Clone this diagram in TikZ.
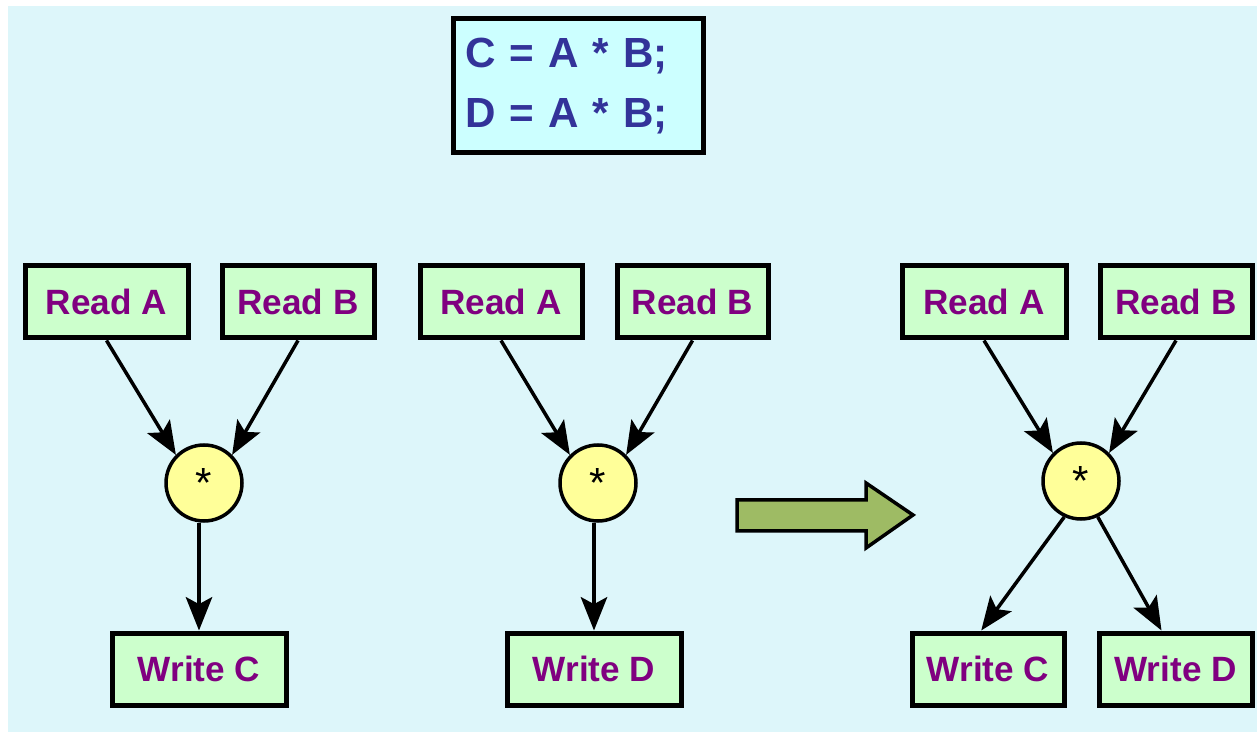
\documentclass[tikz,border=0pt]{standalone}
\usepackage{fontspec}
\setmainfont{Liberation Sans}
\usetikzlibrary{arrows.meta}
\definecolor{bgcyan}{RGB}{221,246,250}
\definecolor{codefill}{RGB}{204,255,255}
\definecolor{codetext}{RGB}{51,51,153}
\definecolor{opfill}{RGB}{204,255,204}
\definecolor{optext}{RGB}{128,0,128}
\definecolor{mulfill}{RGB}{255,255,153}
\definecolor{bigarrow}{RGB}{158,187,100}
\def\px{0.02cm}
\tikzset{
  opbox/.style={draw=black, line width=5*\px, fill=opfill, minimum height=72*\px,
    inner sep=0pt, text=optext, font=\bfseries\fontsize{20pt}{24pt}\selectfont},
  mulnode/.style={circle, draw=black, line width=3.5*\px, fill=mulfill,
    minimum size=76*\px, inner sep=0pt, font=\fontsize{24pt}{24pt}\selectfont},
  flow/.style={line width=3.5*\px, -{Stealth[length=19pt,width=15pt,inset=4pt]}},
}
\begin{document}
\begin{tikzpicture}[x=0.02cm, y=-0.02cm]
  \useasboundingbox (0,0) rectangle (1257,732);
  \fill[bgcyan] (8,6) rectangle (1257,732);

  % source statements
  \node[draw=black, line width=5*\px, fill=codefill, minimum width=250*\px,
    minimum height=134*\px, text width=226*\px, inner xsep=12*\px, align=left,
    text=codetext, font=\bfseries\fontsize{24pt}{34pt}\selectfont]
    (code) at (578,86) {C = A * B;\\D = A * B;};

  % first graph: C = A * B
  \node[opbox, minimum width=163*\px] (ra1) at (106.5,302) {Read A};
  \node[opbox, minimum width=152*\px] (rb1) at (298,302) {Read B};
  \node[mulnode] (m1) at (204,483) {\raisebox{-0.5ex}{*}};
  \node[opbox, minimum width=174*\px] (wc1) at (199,669) {Write C};
  \draw[flow] (ra1.south) -- (m1.135);
  \draw[flow] (rb1.south) -- (m1.45);
  \draw[flow] (m1.south -| wc1.north) -- (wc1.north);

  % second graph: D = A * B
  \node[opbox, minimum width=162*\px] (ra2) at (501,302) {Read A};
  \node[opbox, minimum width=151*\px] (rb2) at (692.5,302) {Read B};
  \node[mulnode] (m2) at (598,483) {\raisebox{-0.5ex}{*}};
  \node[opbox, minimum width=174*\px] (wd2) at (594,669) {Write D};
  \draw[flow] (ra2.south) -- (m2.135);
  \draw[flow] (rb2.south) -- (m2.45);
  \draw[flow] (m2.south -| wd2.north) -- (wd2.north);

  % transformation arrow
  \filldraw[fill=bigarrow, draw=black, line width=3.5*\px, line join=miter]
    (737,500) -- (866,500) -- (866,483) -- (913,515) -- (866,548)
    -- (866,531) -- (737,531) -- cycle;

  % merged graph with the common multiplication shared
  \node[opbox, minimum width=164*\px] (ra3) at (984,302) {Read A};
  \node[opbox, minimum width=152*\px] (rb3) at (1176,302) {Read B};
  \node[mulnode] (m3) at (1081,481) {\raisebox{-0.5ex}{*}};
  \node[opbox, minimum width=152*\px] (wc3) at (988,669) {Write C};
  \node[opbox, minimum width=153*\px] (wd3) at (1175.5,669) {Write D};
  \draw[flow] (ra3.south) -- (m3.135);
  \draw[flow] (rb3.south) -- (m3.45);
  \draw[flow] (m3.245) -- (wc3.100);
  \draw[flow] (m3.295) -- (wd3.110);
\end{tikzpicture}
\end{document}
